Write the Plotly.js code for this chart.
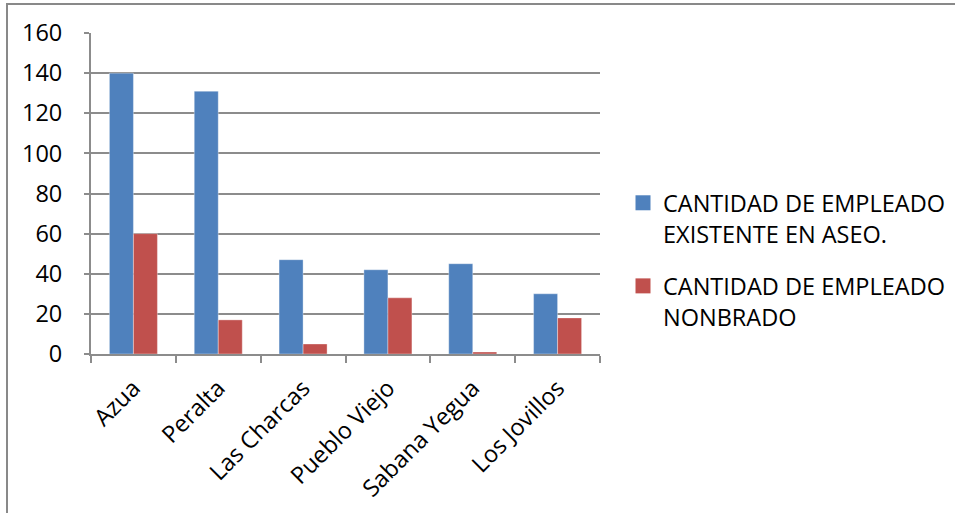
<!DOCTYPE html>
<html>
<head>
<meta charset="utf-8">
<script src="https://cdn.plot.ly/plotly-3.0.1.min.js"></script>
<style>html,body{margin:0;padding:0;background:#fff;}#chart{width:955px;height:513px;}</style>
</head>
<body>
<div id="chart"></div>
<script>
const categories = ["Azua", "Peralta", "Las Charcas", "Pueblo Viejo", "Sabana Yegua", "Los Jovillos"];
const seriesNames = ["CANTIDAD DE EMPLEADO<br>EXISTENTE EN ASEO.", "CANTIDAD DE EMPLEADO<br>NONBRADO"];
const existentes = [140, 131, 47, 42, 45, 30];
const nombrados = [60, 17, 5, 28, 1, 18];
const yTicks = [0, 20, 40, 60, 80, 100, 120, 140, 160];

const blue = "#4F81BD", red = "#C0504D";
const font = "Open Sans, Liberation Sans, sans-serif";
const fs = 23.5;

const L = 91, R = 600, T = 33, B = 354, W = 955, H = 513;
const pw = R - L, ph = B - T;
const px = v => (v - L) / pw;
const py = v => (B - v) / ph;

const data = [
  {type: "bar", x: categories, y: existentes, name: seriesNames[0], showlegend: false,
   marker: {color: blue, line: {color: "rgba(255,255,255,0.35)", width: 1}}, hoverinfo: "y"},
  {type: "bar", x: categories, y: nombrados, name: seriesNames[1], showlegend: false,
   marker: {color: red, line: {color: "rgba(255,255,255,0.35)", width: 1}}, hoverinfo: "y"},
  {type: "scatter", mode: "markers", x: [null], y: [null], name: seriesNames[0], legendgroup: "a",
   marker: {symbol: "square", size: 15, color: blue}},
  {type: "scatter", mode: "markers", x: [null], y: [null], name: seriesNames[1], legendgroup: "b",
   marker: {symbol: "square", size: 15, color: red}}
];

const layout = {
  width: W, height: H,
  margin: {l: L, r: W - R, t: T, b: H - B, pad: 0},
  paper_bgcolor: "#fff", plot_bgcolor: "#fff",
  font: {family: font, size: fs, color: "#000"},
  barmode: "group", bargap: 0.434, bargroupgap: 0,
  xaxis: {
    type: "category", tickangle: -45, tickson: "boundaries",
    ticks: "outside", ticklen: 7, tickcolor: "#8c8c8c", tickwidth: 2,
    showline: true, linecolor: "#8c8c8c", linewidth: 2,
    showgrid: false, zeroline: false,
    ticklabelstandoff: 9,
    tickfont: {family: font, size: fs, color: "#000"}
  },
  yaxis: {
    range: [0, 160], tickvals: yTicks, ticktext: yTicks.map(String),
    ticks: "outside", ticklen: 5, tickcolor: "#8c8c8c", tickwidth: 2,
    showline: true, linecolor: "#8c8c8c", linewidth: 2,
    showgrid: true, gridcolor: "#8c8c8c", gridwidth: 2, zeroline: false,
    ticklabelstandoff: 17,
    tickfont: {family: font, size: fs, color: "#000"}
  },
  legend: {
    xref: "container", yref: "container", x: 623 / W, y: 1 - 181 / H,
    xanchor: "left", yanchor: "top", valign: "top",
    font: {family: font, size: fs, color: "#000"},
    tracegroupgap: 19, bgcolor: "rgba(0,0,0,0)"
  },
  shapes: [
    {type: "rect", xref: "paper", yref: "paper",
     x0: px(7), x1: px(965), y0: py(525), y1: py(4),
     line: {color: "#898989", width: 2}, fillcolor: "rgba(0,0,0,0)", layer: "below"}
  ],
  showlegend: true
};

Plotly.newPlot("chart", data, layout, {displayModeBar: false, staticPlot: true});
</script>
</body>
</html>
